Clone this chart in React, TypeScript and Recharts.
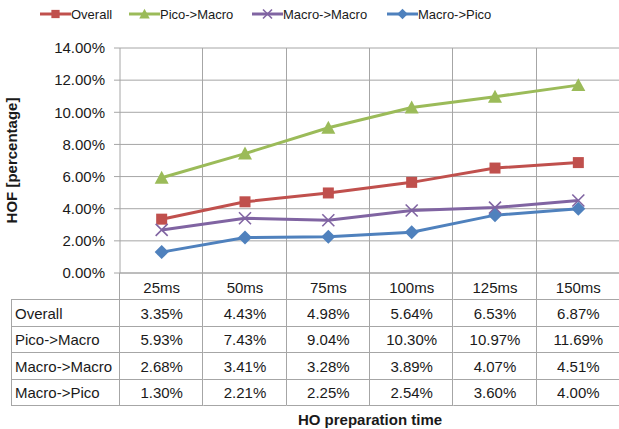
import React from 'react';
import { LineChart, Line, XAxis, YAxis, CartesianGrid } from 'recharts';

// chart values
const categories = ['25ms', '50ms', '75ms', '100ms', '125ms', '150ms'];
const overall = [3.35, 4.43, 4.98, 5.64, 6.53, 6.87];
const picoToMacro = [5.93, 7.43, 9.04, 10.3, 10.97, 11.69];
const macroToMacro = [2.68, 3.41, 3.28, 3.89, 4.07, 4.51];
const macroToPico = [1.3, 2.21, 2.25, 2.54, 3.6, 4.0];
const yTicks = [0, 2, 4, 6, 8, 10, 12, 14];

const series = [
    { key: 'overall', name: 'Overall', color: '#C0504D', shape: 'square', values: overall },
    { key: 'picoToMacro', name: 'Pico->Macro', color: '#9BBB59', shape: 'triangle', values: picoToMacro },
    { key: 'macroToMacro', name: 'Macro->Macro', color: '#8064A2', shape: 'cross', values: macroToMacro },
    { key: 'macroToPico', name: 'Macro->Pico', color: '#4F81BD', shape: 'diamond', values: macroToPico },
];

const data = categories.map((cat, i) => {
    const row: any = { idx: i, cat };
    series.forEach((s) => { row[s.key] = s.values[i]; });
    return row;
});

// layout
const W = 625;
const H = 429;
const PLOT_LEFT = 120;
const PLOT_RIGHT = 620;
const BAND = (PLOT_RIGHT - PLOT_LEFT) / categories.length;
const GRID = '#A6A6A6';
const TEXT = '#1a1a1a';
const FONT = '"Liberation Sans", Arial, sans-serif';
const ROW_LINES = [26, 52.5, 79, 105.5, 132];
const ROW_TEXT = [14, 40, 66, 93, 119];

const fmt = (v: number) => v.toFixed(2) + '%';

const Marker = ({ shape, cx, cy, color, s = 1 }: any) => {
    if (shape === 'square') {
        const h = 5.5 * s;
        return <rect x={cx - h} y={cy - h} width={h * 2} height={h * 2} fill={color} />;
    }
    if (shape === 'triangle') {
        const h = 7 * s;
        return <polygon points={`${cx},${cy - h} ${cx + h},${cy + h * 0.85} ${cx - h},${cy + h * 0.85}`} fill={color} />;
    }
    if (shape === 'cross') {
        const h = 6 * s;
        return (
            <g stroke={color} strokeWidth={1.6}>
                <line x1={cx - h} y1={cy - h} x2={cx + h} y2={cy + h} />
                <line x1={cx - h} y1={cy + h} x2={cx + h} y2={cy - h} />
            </g>
        );
    }
    const h = 7 * s;
    return <polygon points={`${cx},${cy - h} ${cx + h},${cy} ${cx},${cy + h} ${cx - h},${cy}`} fill={color} />;
};

// x axis tick draws one column of the data table
const TableTick = (props: any) => {
    const { x, y, payload } = props;
    const i = payload.value;
    const half = BAND / 2;
    const left = x - half;
    const right = x + half;
    const bottom = y + ROW_LINES[ROW_LINES.length - 1];
    return (
        <g fontFamily={FONT} fontSize={15} fill={TEXT}>
            <text x={x} y={y + ROW_TEXT[0]} textAnchor="middle" dominantBaseline="central">{categories[i]}</text>
            {series.map((s, r) => (
                <text key={s.key} x={x} y={y + ROW_TEXT[r + 1]} textAnchor="middle" dominantBaseline="central">
                    {fmt(s.values[i])}
                </text>
            ))}
            {ROW_LINES.map((d) => (
                <line key={d} x1={left} x2={right} y1={Math.round(y + d) + 0.5} y2={Math.round(y + d) + 0.5} stroke={GRID} />
            ))}
            <line x1={Math.round(right) - 0.5} x2={Math.round(right) - 0.5} y1={y} y2={bottom} stroke={GRID} />
            {i === 0 && (
                <g>
                    <line x1={Math.round(left) - 0.5} x2={Math.round(left) - 0.5} y1={y} y2={bottom} stroke={GRID} />
                    <line x1={11.5} x2={11.5} y1={Math.round(y + ROW_LINES[0]) + 0.5} y2={bottom} stroke={GRID} />
                    {ROW_LINES.map((d) => (
                        <line key={d} x1={11} x2={left} y1={Math.round(y + d) + 0.5} y2={Math.round(y + d) + 0.5} stroke={GRID} />
                    ))}
                    {series.map((s, r) => (
                        <text key={s.key} x={15} y={y + ROW_TEXT[r + 1]} textAnchor="start" dominantBaseline="central">
                            {s.name}
                        </text>
                    ))}
                </g>
            )}
        </g>
    );
};

const legendLeft = [40, 129, 252, 387];

export default function App() {
    return (
        <div style={{ position: 'absolute', left: 0, top: 0, width: 619, height: 429, overflow: 'hidden', background: '#fff' }}>
            {/* legend */}
            {series.map((s, i) => (
                <div key={s.key} style={{ position: 'absolute', left: legendLeft[i], top: 5, height: 18, display: 'flex', alignItems: 'center', fontFamily: FONT, fontSize: 13, color: TEXT, whiteSpace: 'nowrap' }}>
                    <svg width={31} height={18} style={{ display: 'block' }}>
                        <line x1={0} x2={31} y1={9} y2={9} stroke={s.color} strokeWidth={3} />
                        <Marker shape={s.shape} cx={15.5} cy={9} color={s.color} s={0.75} />
                    </svg>
                    <span>{s.name}</span>
                </div>
            ))}
            <LineChart width={W} height={H} data={data} margin={{ top: 48, right: W - PLOT_RIGHT, bottom: 0, left: 0 }}>
                <CartesianGrid
                    stroke={GRID}
                    strokeWidth={1}
                    verticalCoordinatesGenerator={({ offset }: any) =>
                        categories.map((_, i) => Math.round(offset.left + ((i + 1) * offset.width) / categories.length) - 0.5)
                    }
                />
                <XAxis
                    dataKey="idx"
                    type="number"
                    domain={[-0.5, categories.length - 0.5]}
                    ticks={categories.map((_, i) => i)}
                    interval={0}
                    height={156}
                    tickLine={false}
                    tickSize={0}
                    tickMargin={0}
                    axisLine={{ stroke: GRID }}
                    tick={<TableTick />}
                    label={{ value: 'HO preparation time', position: 'insideBottom', offset: 4, style: { fontFamily: FONT, fontSize: 15, fontWeight: 'bold', fill: TEXT } }}
                />
                <YAxis
                    width={PLOT_LEFT}
                    domain={[0, 14]}
                    ticks={yTicks}
                    tickFormatter={fmt}
                    tickSize={6}
                    tickMargin={9}
                    tickLine={{ stroke: GRID }}
                    axisLine={{ stroke: GRID }}
                    tick={{ fontFamily: FONT, fontSize: 15, fill: TEXT }}
                    label={{ value: 'HOF [percentage]', angle: -90, position: 'insideLeft', offset: 12, style: { textAnchor: 'middle', fontFamily: FONT, fontSize: 15, fontWeight: 'bold', fill: TEXT } }}
                />
                {series.map((s) => (
                    <Line
                        key={s.key}
                        dataKey={s.key}
                        name={s.name}
                        stroke={s.color}
                        strokeWidth={3}
                        isAnimationActive={false}
                        dot={(p: any) => <Marker key={`${s.key}-${p.index}`} shape={s.shape} cx={p.cx} cy={p.cy} color={s.color} />}
                    />
                ))}
            </LineChart>
        </div>
    );
}
